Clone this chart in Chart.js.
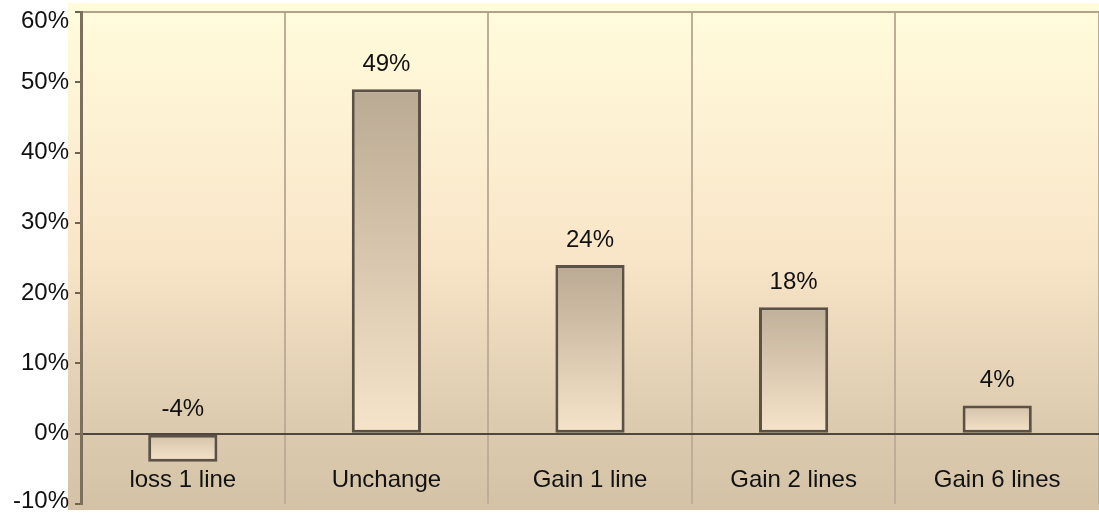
<!DOCTYPE html>
<html>
<head>
<meta charset="utf-8">
<script src="https://cdn.jsdelivr.net/npm/chart.js@4.4.1/dist/chart.umd.min.js"></script>
<style>
  html, body { margin: 0; padding: 0; background: #fff; }
  #wrap { width: 1099px; height: 515px; }
</style>
</head>
<body>
<div id="wrap"><canvas id="chart"></canvas></div>
<script>
// data
var categories = ['loss 1 line', 'Unchange', 'Gain 1 line', 'Gain 2 lines', 'Gain 6 lines'];
var values = [-4, 49, 24, 18, 4];
var yTicks = [-10, 0, 10, 20, 30, 40, 50, 60];

var FONT = '"Liberation Sans", Arial, sans-serif';

// background panel behind the plot
var panelBg = {
    id: 'panelBg',
    beforeDraw: function (chart) {
        var ctx = chart.ctx;
        var g = ctx.createLinearGradient(0, 3, 0, 510);
        g.addColorStop(0, '#fffcdc');
        g.addColorStop(0.25, '#fdf1d3');
        g.addColorStop(0.5, '#f9e5c8');
        g.addColorStop(0.8, '#dfcdb1');
        g.addColorStop(1, '#d3c2a6');
        ctx.save();
        ctx.fillStyle = g;
        ctx.fillRect(68, 3, chart.width - 68, 507);
        ctx.restore();
    }
};

// value labels above bars, category labels inside the plot, y tick labels kept on canvas
var labelsPlugin = {
    id: 'labelsPlugin',
    afterDatasetsDraw: function (chart) {
        var ctx = chart.ctx;
        var x = chart.scales.x, y = chart.scales.y;
        var meta = chart.getDatasetMeta(0);
        ctx.save();
        ctx.fillStyle = '#111';
        ctx.font = '24px ' + FONT;
        ctx.textAlign = 'center';
        ctx.textBaseline = 'middle';
        meta.data.forEach(function (bar, i) {
            var top = Math.min(bar.y, bar.base);
            ctx.fillText(values[i] + '%', bar.x, top - 25);
        });
        categories.forEach(function (c, i) {
            ctx.fillText(c, x.getPixelForValue(i), y.getPixelForValue(-6.6));
        });
        ctx.textAlign = 'right';
        yTicks.forEach(function (v) {
            var py = Math.max(21, Math.min(chart.height - 14, y.getPixelForValue(v)));
            ctx.fillText(v + '%', y.right - 12, py);
        });
        ctx.restore();
    }
};

//-------------
//- BAR CHART -
//-------------
var barChart = new Chart(document.getElementById('chart'), {
    type: 'bar',
    data: {
        labels: categories,
        datasets: [{
            data: values,
            backgroundColor: function (context) {
                var chart = context.chart;
                var y = chart.scales.y;
                if (!y || !chart.chartArea) return '#dccbb0';
                var p = y.getPixelForValue(context.raw), b = y.getPixelForValue(0);
                var top = Math.min(p, b), bot = Math.max(p, b);
                if (!isFinite(top) || bot - top < 1) return '#dccbb0';
                var g = chart.ctx.createLinearGradient(0, top, 0, bot);
                var h = Math.min(1, (bot - top) / 160);
                // darker top for taller bars
                var r = Math.round(0xd8 - (0xd8 - 0xbb) * h);
                var gg = Math.round(0xc7 - (0xc7 - 0xaa) * h);
                var bb = Math.round(0xae - (0xae - 0x93) * h);
                g.addColorStop(0, 'rgb(' + r + ',' + gg + ',' + bb + ')');
                g.addColorStop(1, '#f6e4ca');
                return g;
            },
            borderColor: '#5b5147',
            borderWidth: 3,
            borderSkipped: false,
            barPercentage: 0.34,
            categoryPercentage: 1
        }]
    },
    options: {
        responsive: true,
        maintainAspectRatio: false,
        animation: false,
        layout: { padding: { top: 12, bottom: 11, right: -8, left: 0 } },
        plugins: {
            legend: { display: false },
            tooltip: { enabled: false }
        },
        scales: {
            x: {
                offset: true,
                ticks: { display: false },
                grid: {
                    offset: true,
                    color: '#bfae97',
                    lineWidth: 2,
                    drawTicks: false
                },
                border: { display: false }
            },
            y: {
                min: -10,
                max: 60,
                afterBuildTicks: function (scale) {
                    scale.ticks = yTicks.map(function (v) { return { value: v }; });
                },
                afterFit: function (scale) {
                    scale.width = 81;
                    scale.paddingTop = 0;
                    scale.paddingBottom = 0;
                },
                ticks: { display: false },
                grid: {
                    color: function (c) {
                        if (c.tick && c.tick.value === 0) return '#4f463d';
                        if (c.tick && c.tick.value === 60) return '#b3a28a';
                        return 'rgba(0,0,0,0)';
                    },
                    tickColor: '#6f6253',
                    tickLength: 6,
                    lineWidth: 2
                },
                border: { color: '#7d6f5e', width: 3 }
            }
        }
    },
    plugins: [panelBg, labelsPlugin]
});
</script>
</body>
</html>
